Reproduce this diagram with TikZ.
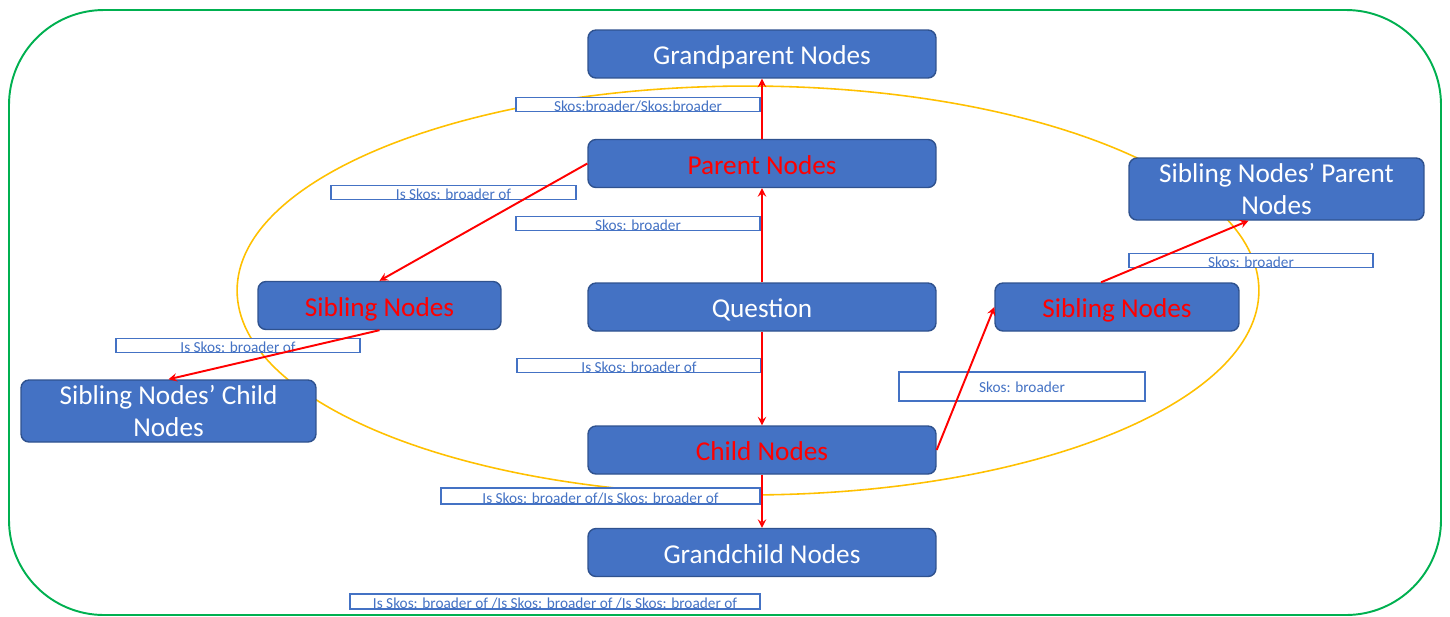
\documentclass[tikz,border=0pt]{standalone}
\usepackage{fontspec}
\setmainfont{Carlito}
\usepackage{xcolor}
\usetikzlibrary{positioning, arrows.meta, calc}

\definecolor{nodeblue}{HTML}{4472C4}
\definecolor{nodeedge}{HTML}{2F528F}
\definecolor{linkred}{HTML}{FF0000}
\definecolor{ringyellow}{HTML}{FFC000}
\definecolor{framegreen}{HTML}{00B050}

\begin{document}
\begin{tikzpicture}[x=0.02cm, y=-0.02cm,
    box/.style={draw=nodeedge, line width=0.8pt, fill=nodeblue, rounded corners=0.16cm,
        minimum width=6.96cm, minimum height=0.96cm, inner sep=0pt, align=center,
        text=white, font=\fontsize{15.5}{18.5}\selectfont},
    concept/.style={box, text height=1.45em, text depth=0.2em},
    inner/.style={concept, text=linkred},
    twoline/.style={box, minimum width=5.9cm, minimum height=1.24cm},
    rel/.style={->, >=stealth, linkred, line width=1.1pt},
    linklabel/.style={draw=nodeblue, line width=0.7pt, fill=white, text=nodeblue,
        minimum height=0.26cm, inner sep=0pt, text height=0.8em, text depth=0pt,
        font=\fontsize{8.7}{10}\selectfont}]
    \useasboundingbox (0,0) rectangle (1450,616);

    % Outer frame and scope ring
    \draw[framegreen, line width=1.1pt, rounded corners=1.9cm] (9,10) rectangle (1441,615);
    \draw[ringyellow, line width=0.9pt] (748,290.5) ellipse [x radius=10.22cm, y radius=4.09cm];

    % Concept nodes
    \node[concept] (gp) at (762,54) {Grandparent Nodes};
    \node[inner] (parent) at (762,163.5) {Parent Nodes};
    \node[concept] (question) at (762,307) {Question};
    \node[inner] (child) at (762,450) {Child Nodes};
    \node[concept] (gc) at (762,552.5) {Grandchild Nodes};
    \node[inner, minimum width=4.86cm] (sibL) at (379.5,305.5) {Sibling Nodes};
    \node[inner, minimum width=4.88cm] (sibR) at (1117,307) {Sibling Nodes};
    \node[twoline] (sibChild) at (168.5,411) {Sibling Nodes’ Child\\Nodes};
    \node[twoline] (sibParent) at (1276.5,189) {Sibling Nodes’ Parent\\Nodes};

    % Relation labels
    \node[linklabel, minimum width=4.88cm] (lblGp) at (638,104.5) {Skos:broader/Skos:broader};
    \node[linklabel, minimum width=4.9cm] (lblSibL) at (453.5,192.5) {Is Skos: broader of};
    \node[linklabel, minimum width=4.88cm] (lblParent) at (638,223.5) {Skos: broader};
    \node[linklabel, minimum width=4.88cm] (lblSibParent) at (1251,260.5) {Skos: broader};
    \node[linklabel, minimum width=4.88cm] (lblSibChild) at (238,345.5) {Is Skos: broader of};
    \node[linklabel, minimum width=4.88cm] (lblChild) at (639,365.5) {Is Skos: broader of};
    \node[linklabel, minimum width=4.92cm, minimum height=0.58cm, text height=0.7em]
        (lblSibR) at (1022,386.5) {Skos: broader};
    \node[linklabel, minimum width=6.38cm, minimum height=0.32cm] (lblGc) at (600.5,496)
        {Is Skos: broader of/Is Skos: broader of};
    \node[linklabel, minimum width=8.2cm, minimum height=0.3cm] (lblGgc) at (555,601.5)
        {Is Skos: broader of /Is Skos: broader of /Is Skos: broader of};

    % Red relation arrows
    \draw[rel] (parent.north) -- (gp.south);
    \draw[rel] (question.north) -- (parent.south);
    \draw[rel] (question.south) -- (child.north);
    \draw[rel] (child.south) -- (gc.north);
    \draw[rel] (parent.west) -- (sibL.north);
    \draw[rel] (sibL.south) -- (sibChild.north);
    \draw[rel] (child.east) -- (sibR.west);
    \draw[rel] ([xshift=-0.32cm]sibR.north) -- ([xshift=-0.56cm]sibParent.south);
\end{tikzpicture}
\end{document}
